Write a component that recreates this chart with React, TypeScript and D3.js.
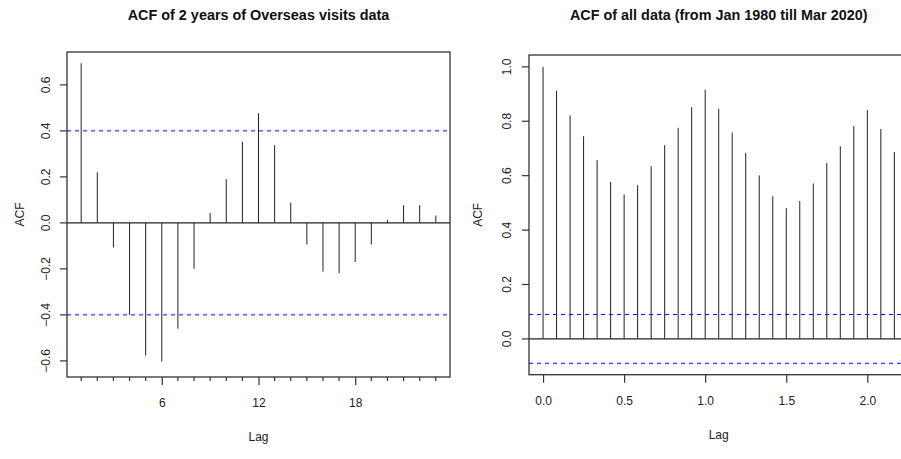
import React, { useEffect, useRef } from 'react'
import * as d3 from 'd3'

// left panel: 2 years of overseas visits, lags 1..23 (months)
const shortLags = [1, 2, 3, 4, 5, 6, 7, 8, 9, 10, 11, 12, 13, 14, 15, 16, 17, 18, 19, 20, 21, 22, 23]
const shortAcf = [0.694, 0.22, -0.107, -0.4, -0.577, -0.603, -0.46, -0.199, 0.043, 0.19, 0.353, 0.477,
    0.338, 0.088, -0.094, -0.212, -0.219, -0.17, -0.094, 0.013, 0.077, 0.077, 0.032]
const shortBound = 0.4
const shortYTicks = [-0.6, -0.4, -0.2, 0, 0.2, 0.4, 0.6]
const shortXTicks = [6, 12, 18]

// right panel: all data, lags in months (shown in years)
const longLagMonths = [0, 1, 2, 3, 4, 5, 6, 7, 8, 9, 10, 11, 12, 13, 14, 15, 16, 17, 18, 19, 20, 21, 22, 23, 24, 25, 26]
const longAcf = [1.0, 0.912, 0.821, 0.745, 0.657, 0.577, 0.531, 0.565, 0.635, 0.712, 0.776, 0.852, 0.916,
    0.846, 0.759, 0.684, 0.601, 0.524, 0.481, 0.507, 0.571, 0.647, 0.708, 0.782, 0.841, 0.772, 0.687]
const longBound = 0.0895
const longYTicks = [0, 0.2, 0.4, 0.6, 0.8, 1.0]
const longXTicks = [0, 0.5, 1.0, 1.5, 2.0]

const W = 901
const H = 459
const FONT = '"Liberation Sans", Arial, sans-serif'

const drawPanel = (svg, p) => {
    const x = d3.scaleLinear().domain(p.xDomain).range([p.left, p.right])
    const y = d3.scaleLinear().domain(p.yDomain).range([p.bottom, p.top])
    const g = svg.append('g')

    // stems
    g.append('g')
        .selectAll('line')
        .data(p.lags.map((l, i) => ({ lag: l, v: p.values[i] })))
        .join('line')
        .attr('x1', d => x(d.lag))
        .attr('x2', d => x(d.lag))
        .attr('y1', y(0))
        .attr('y2', d => y(d.v))
        .attr('stroke', '#222')
        .attr('stroke-width', 1)

    // zero line
    g.append('line')
        .attr('x1', p.left).attr('x2', p.right)
        .attr('y1', y(0)).attr('y2', y(0))
        .attr('stroke', '#222').attr('stroke-width', 1.2)

    // confidence bounds
    g.append('g')
        .selectAll('line')
        .data([p.bound, -p.bound])
        .join('line')
        .attr('x1', p.left).attr('x2', p.right)
        .attr('y1', d => y(d)).attr('y2', d => y(d))
        .attr('stroke', '#0000ff')
        .attr('stroke-width', 1)
        .attr('stroke-dasharray', '4,4')

    // box
    g.append('rect')
        .attr('x', p.left).attr('y', p.top)
        .attr('width', p.right - p.left).attr('height', p.bottom - p.top)
        .attr('fill', 'none').attr('stroke', '#333').attr('stroke-width', 1.3)

    // y axis
    const yAxis = g.append('g')
        .attr('transform', `translate(${p.left},0)`)
        .call(d3.axisLeft(y).tickValues(p.yTicks).tickSize(7).tickFormat(d3.format('.1f')))
    yAxis.select('.domain').remove()
    yAxis.selectAll('line').attr('stroke', '#333').attr('stroke-width', 1.2)
    yAxis.selectAll('text')
        .attr('x', 0).attr('dy', null)
        .attr('transform', d => `translate(${-p.yLabelOff},${y(d)}) rotate(-90)`)
        .attr('y', 0)
        .attr('text-anchor', 'middle')
        .attr('dominant-baseline', 'central')
        .attr('fill', '#222')
        .style('font-family', FONT).style('font-size', '12px')
    yAxis.selectAll('.tick').attr('transform', null)
    yAxis.selectAll('.tick line').attr('y1', d => y(d)).attr('y2', d => y(d)).attr('x1', 0).attr('x2', -7)

    // minor ticks
    if (p.minorTicks) {
        g.append('g')
            .selectAll('line')
            .data(p.minorTicks)
            .join('line')
            .attr('x1', d => x(d)).attr('x2', d => x(d))
            .attr('y1', p.bottom).attr('y2', p.bottom + 4)
            .attr('stroke', '#333').attr('stroke-width', 1.2)
    }

    // x axis
    const xAxis = g.append('g')
        .attr('transform', `translate(0,${p.bottom})`)
        .call(d3.axisBottom(x).tickValues(p.xTicks).tickSize(8).tickFormat(p.xFormat))
    xAxis.select('.domain').remove()
    xAxis.selectAll('line').attr('stroke', '#333').attr('stroke-width', 1.2)
    xAxis.selectAll('text')
        .attr('y', 26).attr('dy', null)
        .attr('dominant-baseline', 'central')
        .attr('fill', '#222')
        .style('font-family', FONT).style('font-size', '12px')

    // labels
    g.append('text')
        .text('Lag')
        .attr('x', (p.left + p.right) / 2)
        .attr('y', p.bottom + 60)
        .attr('text-anchor', 'middle')
        .attr('dominant-baseline', 'central')
        .attr('fill', '#222')
        .style('font-family', FONT).style('font-size', '12px')
    g.append('text')
        .text('ACF')
        .attr('transform', `translate(${p.left - p.yTitleOff},${(p.top + p.bottom) / 2}) rotate(-90)`)
        .attr('text-anchor', 'middle')
        .attr('dominant-baseline', 'central')
        .attr('fill', '#222')
        .style('font-family', FONT).style('font-size', '12px')
    g.append('text')
        .text(p.title)
        .attr('x', (p.left + p.right) / 2)
        .attr('y', 20)
        .attr('text-anchor', 'middle')
        .attr('fill', '#111')
        .style('font-family', FONT).style('font-size', '14.4px').style('font-weight', 'bold')
}

const App = () => {
    const Chart = useRef()

    useEffect(() => {
        const svg = d3.select(Chart.current)
        svg.selectAll('*').remove()

        drawPanel(svg, {
            title: 'ACF of 2 years of Overseas visits data',
            lags: shortLags, values: shortAcf, bound: shortBound,
            left: 67, right: 450, top: 52, bottom: 377,
            xDomain: [0.12, 23.88], yDomain: [-0.67, 0.743],
            yTicks: shortYTicks, xTicks: shortXTicks, xFormat: d3.format('d'),
            minorTicks: shortLags.filter(l => !shortXTicks.includes(l)),
            yLabelOff: 21.5, yTitleOff: 47,
        })

        drawPanel(svg, {
            title: 'ACF of all data (from Jan 1980 till Mar 2020)',
            lags: longLagMonths.map(m => m / 12), values: longAcf, bound: longBound,
            left: 529, right: 908.4, top: 55, bottom: 374.7,
            xDomain: [-0.0867, 2.2533], yDomain: [-0.1315, 1.0435],
            yTicks: longYTicks, xTicks: longXTicks, xFormat: d3.format('.1f'),
            minorTicks: null,
            yLabelOff: 22.3, yTitleOff: 50.7,
        })
    }, [])

    return (
        <div style={{ position: 'fixed', left: 0, top: 0, width: W, height: H, background: '#fff' }}>
            <svg ref={Chart} width={W} height={H} style={{ display: 'block' }}></svg>
        </div>
    )
}

export default App
